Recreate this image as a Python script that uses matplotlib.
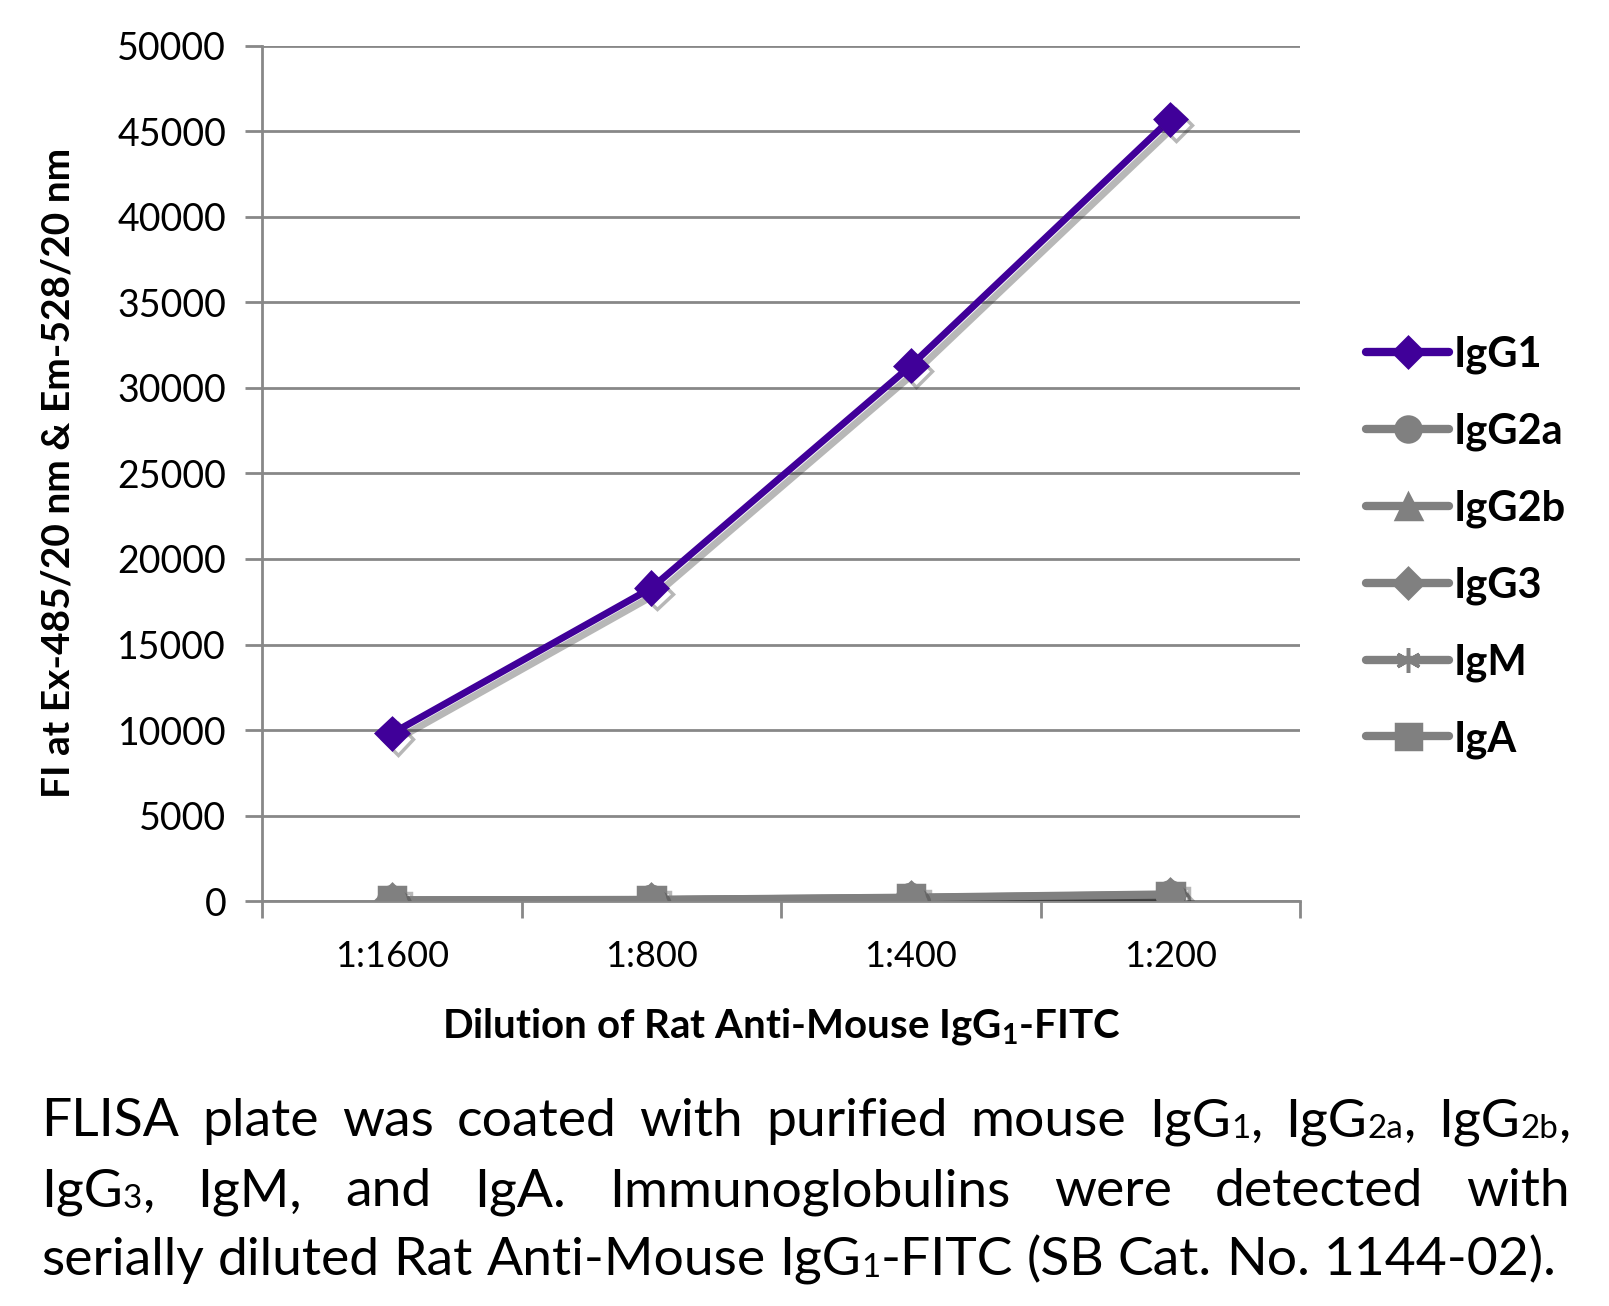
import matplotlib
matplotlib.use('Agg')
import matplotlib.pyplot as plt
import matplotlib.patheffects as pe

dilutions = ['1:1600', '1:800', '1:400', '1:200']
igg1 = [9800, 18300, 31300, 45700]
igg2a = [60, 90, 200, 350]
igg2b = [80, 110, 240, 430]
igg3 = [70, 100, 220, 400]
igm = [50, 80, 180, 320]
iga = [40, 70, 160, 300]

series = [('IgG1', igg1, 'D', '#400099'),
          ('IgG2a', igg2a, 'o', '#808080'),
          ('IgG2b', igg2b, '^', '#808080'),
          ('IgG3', igg3, 'D', '#808080'),
          ('IgM', igm, (6, 2, 0), '#808080'),
          ('IgA', iga, 's', '#808080')]

plt.rcParams['font.family'] = ['Lato', 'DejaVu Sans']
plt.rcParams['mathtext.fontset'] = 'custom'
plt.rcParams['mathtext.rm'] = 'Lato'
plt.rcParams['mathtext.bf'] = 'Lato:bold'

fig = plt.figure(figsize=(16.09, 13.06), dpi=100)
ax = fig.add_axes([0.163, 0.31, 0.645, 0.655])

xs = [i + 0.5 for i in range(len(dilutions))]
shadow = [pe.SimpleLineShadow(offset=(4, -4), shadow_color='#333333', alpha=0.35), pe.Normal()]
for name, vals, mk, col in reversed(series):
    ms = 16 if mk == 'D' else 19
    ax.plot(xs, vals, color=col, lw=5, marker=mk, ms=ms, mew=2.5,
            mec=col, mfc=col, label=name, path_effects=shadow, zorder=3)

ax.set_xlim(0, 4)
ax.set_ylim(0, 50000)
ax.set_yticks(range(0, 50001, 5000))
ax.tick_params(axis='y', labelsize=27, length=12, width=2, color='#888888', pad=14)
ax.set_xticks(range(5))
ax.set_xticklabels([])
ax.set_xticks(xs, minor=True)
ax.set_xticklabels(dilutions, minor=True)
ax.tick_params(axis='x', which='major', length=12, width=2, color='#888888', direction='out')
ax.tick_params(axis='x', which='minor', length=0, labelsize=26, pad=28)
ax.grid(axis='y', color='#888888', lw=2)
ax.set_axisbelow(True)
for s in ['top', 'right']:
    ax.spines[s].set_visible(False)
for s in ['left', 'bottom']:
    ax.spines[s].set_color('#888888')
    ax.spines[s].set_linewidth(2)

ax.set_ylabel('FI at Ex-485/20 nm & Em-528/20 nm', fontsize=28, fontweight='bold', labelpad=30)
ax.set_xlabel(r'Dilution of Rat Anti-Mouse IgG$\mathbf{_1}$-FITC', fontsize=29,
              fontweight='bold', labelpad=24)

leg_handles = []
for name, vals, mk, col in series:
    ms = 15 if mk == 'D' else 18
    h, = ax.plot([], [], color=col, lw=6, marker=mk, ms=ms, mew=2.5, mec=col, mfc=col,
                 solid_capstyle='round')
    leg_handles.append(h)
fig.legend(leg_handles, [s[0] for s in series], loc='center left',
           bbox_to_anchor=(0.836, 0.581), frameon=False, borderpad=0,
           handlelength=2.0, handletextpad=0.1, labelspacing=0.92,
           prop={'size': 30, 'weight': 'bold'})

# caption, justified by hand
cap_lines = [
    [[('FLISA', 0)], [('plate', 0)], [('was', 0)], [('coated', 0)], [('with', 0)],
     [('purified', 0)], [('mouse', 0)], [('IgG', 0), ('1', 1), (',', 0)],
     [('IgG', 0), ('2a', 1), (',', 0)], [('IgG', 0), ('2b', 1), (',', 0)]],
    [[('IgG', 0), ('3', 1), (',', 0)], [('IgM,', 0)], [('and', 0)], [('IgA.', 0)],
     [('Immunoglobulins', 0)], [('were', 0)], [('detected', 0)], [('with', 0)]],
    [[('serially', 0)], [('diluted', 0)], [('Rat', 0)], [('Anti-Mouse', 0)],
     [('IgG', 0), ('1', 1), ('-FITC', 0)], [('(SB', 0)], [('Cat.', 0)], [('No.', 0)],
     [('1144-02).', 0)]],
]
cap_fam = ['Lato', 'DejaVu Sans']
x_left, x_right = 41, 1570
base_y = [1136, 1206, 1275]
W, H = 1609, 1306
renderer = fig.canvas.get_renderer()


def seg_width(txt, small, size):
    t = fig.text(0, 0, txt, fontsize=size * (0.62 if small else 1), family=cap_fam)
    w = t.get_window_extent(renderer).width
    t.remove()
    return w


def line_width(words, size):
    ws = sum(seg_width(t, s, size) for wd in words for t, s in wd)
    sp = seg_width('a b', 0, size) - seg_width('ab', 0, size)
    return ws + sp * (len(words) - 1)


cap_size = 40
while max(line_width(w, cap_size) for w in cap_lines) > x_right - x_left:
    cap_size -= 0.5

space_w = seg_width('a b', 0, cap_size) - seg_width('ab', 0, cap_size)
for li, words in enumerate(cap_lines):
    widths = [sum(seg_width(t, s, cap_size) for t, s in wd) for wd in words]
    if li < len(cap_lines) - 1:
        gap = (x_right - x_left - sum(widths)) / (len(words) - 1)
    else:
        gap = space_w
    x = x_left
    for wd, ww in zip(words, widths):
        xx = x
        for t, s in wd:
            fig.text(xx / W, 1 - (base_y[li] + (2 if s else 0)) / H, t,
                     fontsize=cap_size * (0.62 if s else 1), family=cap_fam, va='baseline')
            xx += seg_width(t, s, cap_size)
        x += ww + gap

fig.savefig('out.png', dpi=100)
